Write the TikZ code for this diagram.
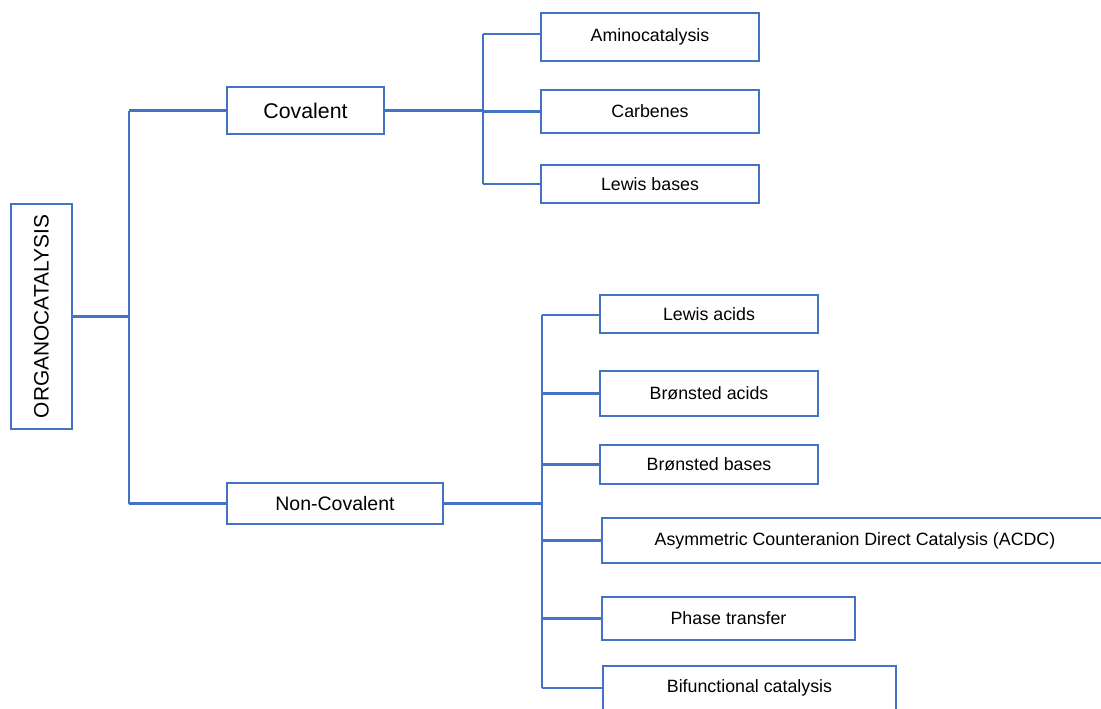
\documentclass[tikz,border=0pt]{standalone}
\usepackage{fontspec}
\setmainfont{Liberation Sans}
\definecolor{lineblue}{RGB}{68,114,196}
\begin{document}
\begin{tikzpicture}[x=1pt,y=-1pt,
  box/.style={draw=lineblue,line width=2.4pt,rectangle,inner sep=0pt,align=center,fill=white},
  conn/.style={draw=lineblue,line width=2.4pt},
  leaf/.style={box,font=\fontsize{17.8}{20}\selectfont}]
\useasboundingbox (0,0) rectangle (1101,709);
\clip (0,0) rectangle (1101,709);
\fill[white] (0,0) rectangle (1101,709);
% nodes
\node[box,minimum width=61pt,minimum height=225pt] (org) at (41.5,316.5)
  {\rotatebox{90}{\fontsize{20.9}{23}\selectfont ORGANOCATALYSIS}};
\node[box,minimum width=157pt,minimum height=47pt,font=\fontsize{21.3}{24}\selectfont] (cov) at (305.5,110.5) {Covalent};
\node[box,minimum width=216pt,minimum height=41pt,font=\fontsize{19.5}{22}\selectfont] (noncov) at (335,503.5) {Non-Covalent};
\node[leaf,minimum width=218pt,minimum height=48pt] (amino) at (650,37) {Aminocatalysis};
\node[leaf,minimum width=218pt,minimum height=43pt] (carb) at (650,111.5) {Carbenes};
\node[leaf,minimum width=218pt,minimum height=38pt] (lbases) at (650,184) {Lewis bases};
\node[leaf,minimum width=218pt,minimum height=38pt] (lacids) at (709,314) {Lewis acids};
\node[leaf,minimum width=218pt,minimum height=45pt] (bacids) at (709,393.5) {Brønsted acids};
\node[leaf,minimum width=218pt,minimum height=39pt] (bbases) at (709,464.5) {Brønsted bases};
\node[leaf,minimum width=506pt,minimum height=45pt] (acdc) at (855,540.5) {Asymmetric Counteranion Direct Catalysis (ACDC)};
\node[leaf,minimum width=253pt,minimum height=43pt] (phase) at (728.5,618.5) {Phase transfer};
\node[leaf,minimum width=293pt,minimum height=44pt] (bifunc) at (749.5,688) {Bifunctional catalysis};
% junctions
\coordinate (j1) at (129,315);
\coordinate (j2) at (483,110);
\coordinate (j3) at (542,503);
% root branch
\draw[conn] (org.east) -- (org.east -| j1);
\draw[conn] (j1 |- cov) -- (j1 |- noncov);
\draw[conn] (j1 |- cov) -- (cov.west);
\draw[conn] (j1 |- noncov) -- (noncov.west);
% covalent branch
\draw[conn] (cov.east) -- (cov.east -| j2);
\draw[conn] (j2 |- amino.north) ++(0,22) -- (j2 |- lbases);
\draw[conn] (j2 |- amino.north) ++(0,22) -- ++(58,0);
\draw[conn] (j2 |- carb) -- (carb.west);
\draw[conn] (j2 |- lbases) -- (lbases.west);
% non-covalent branch
\draw[conn] (noncov.east) -- (noncov.east -| j3);
\draw[conn] (j3 |- lacids.north) ++(0,21) -- (j3 |- bifunc);
\draw[conn] (j3 |- lacids.north) ++(0,21) -- ++(58,0);
\draw[conn] (j3 |- bacids) -- (bacids.west);
\draw[conn] (j3 |- bbases) -- (bbases.west);
\draw[conn] (j3 |- acdc) -- (acdc.west);
\draw[conn] (j3 |- phase) -- (phase.west);
\draw[conn] (j3 |- bifunc) -- (bifunc.west);
\end{tikzpicture}
\end{document}
